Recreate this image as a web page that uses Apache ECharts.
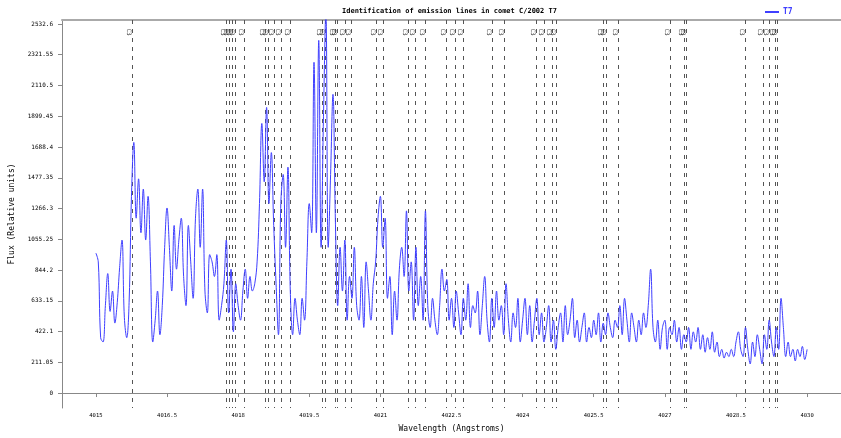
<!DOCTYPE html>
<html><head><meta charset="utf-8">
<script src="https://cdn.jsdelivr.net/npm/echarts@6/dist/echarts.min.js"></script>
<style>html,body{margin:0;padding:0;background:#fff}#c{width:841px;height:438px}</style>
</head><body><div id="c"></div>
<script>
const titleText = 'Identification of emission lines in comet C/2002 T7';
const seriesName = 'T7';
const xAxisName = 'Wavelength (Angstroms)';
const yAxisName = 'Flux (Relative units)';
const lineLabel = 'C3';
const xTicks = [4015, 4016.5, 4018, 4019.5, 4021, 4022.5, 4024, 4025.5, 4027, 4028.5, 4030];
const yTicks = [0, 211.05, 422.1, 633.15, 844.2, 1055.25, 1266.3, 1477.35, 1688.4, 1899.45, 2110.5, 2321.55, 2532.6];
const yTickLabels = ['0', '211.05', '422.1', '633.15', '844.2', '1055.25', '1266.3', '1477.35', '1688.4', '1899.45', '2110.5', '2321.55', '2532.6'];
const lineWavelengths = [4015.757, 4017.735, 4017.80, 4017.861, 4017.924, 4018.124, 4018.577, 4018.64, 4018.766, 4018.903,
  4019.103, 4019.765, 4019.829, 4020.039, 4020.09, 4020.26, 4020.386, 4020.912, 4021.053, 4021.579, 4021.739, 4021.943,
  4022.385, 4022.574, 4022.736, 4023.346, 4023.599, 4024.278, 4024.453, 4024.63, 4024.70, 4025.703, 4025.751, 4026.018,
  4027.118, 4027.398, 4027.455, 4028.682, 4029.06, 4029.187, 4029.328, 4029.37];
const wavelengths = [
4015.00,4015.05,4015.10,4015.15,4015.20,4015.25,4015.30,4015.35,4015.40,4015.45,4015.50,4015.55,4015.60,4015.65,4015.70,4015.75,4015.80,4015.85,4015.90,4015.95,
4016.00,4016.05,4016.10,4016.15,4016.20,4016.25,4016.30,4016.35,4016.40,4016.45,4016.50,4016.55,4016.60,4016.65,4016.70,4016.75,4016.80,4016.85,4016.90,4016.95,
4017.00,4017.05,4017.10,4017.15,4017.20,4017.25,4017.30,4017.35,4017.40,4017.45,4017.50,4017.55,4017.60,4017.65,4017.70,4017.75,4017.80,4017.85,4017.90,4017.95,
4018.00,4018.05,4018.10,4018.15,4018.20,4018.25,4018.30,4018.35,4018.40,4018.45,4018.50,4018.55,4018.60,4018.65,4018.70,4018.75,4018.80,4018.85,4018.90,4018.95,
4019.00,4019.05,4019.10,4019.15,4019.20,4019.25,4019.30,4019.35,4019.40,4019.45,4019.50,4019.55,4019.60,4019.65,4019.70,4019.75,4019.80,4019.85,4019.90,4019.95,
4020.00,4020.05,4020.10,4020.15,4020.20,4020.25,4020.30,4020.35,4020.40,4020.45,4020.50,4020.55,4020.60,4020.65,4020.70,4020.75,4020.80,4020.85,4020.90,4020.95,
4021.00,4021.05,4021.10,4021.15,4021.20,4021.25,4021.30,4021.35,4021.40,4021.45,4021.50,4021.55,4021.60,4021.65,4021.70,4021.75,4021.80,4021.85,4021.90,4021.95,
4022.00,4022.05,4022.10,4022.15,4022.20,4022.25,4022.30,4022.35,4022.40,4022.45,4022.50,4022.55,4022.60,4022.65,4022.70,4022.75,4022.80,4022.85,4022.90,4022.95,
4023.00,4023.05,4023.10,4023.15,4023.20,4023.25,4023.30,4023.35,4023.40,4023.45,4023.50,4023.55,4023.60,4023.65,4023.70,4023.75,4023.80,4023.85,4023.90,4023.95,
4024.00,4024.05,4024.10,4024.15,4024.20,4024.25,4024.30,4024.35,4024.40,4024.45,4024.50,4024.55,4024.60,4024.65,4024.70,4024.75,4024.80,4024.85,4024.90,4024.95,
4025.00,4025.05,4025.10,4025.15,4025.20,4025.25,4025.30,4025.35,4025.40,4025.45,4025.50,4025.55,4025.60,4025.65,4025.70,4025.75,4025.80,4025.85,4025.90,4025.95,
4026.00,4026.05,4026.10,4026.15,4026.20,4026.25,4026.30,4026.35,4026.40,4026.45,4026.50,4026.55,4026.60,4026.65,4026.70,4026.75,4026.80,4026.85,4026.90,4026.95,
4027.00,4027.05,4027.10,4027.15,4027.20,4027.25,4027.30,4027.35,4027.40,4027.45,4027.50,4027.55,4027.60,4027.65,4027.70,4027.75,4027.80,4027.85,4027.90,4027.95,
4028.00,4028.05,4028.10,4028.15,4028.20,4028.25,4028.30,4028.35,4028.40,4028.45,4028.50,4028.55,4028.60,4028.65,4028.70,4028.75,4028.80,4028.85,4028.90,4028.95,
4029.00,4029.05,4029.10,4029.15,4029.20,4029.25,4029.30,4029.35,4029.40,4029.45,4029.50,4029.55,4029.60,4029.65,4029.70,4029.75,4029.80,4029.85,4029.90,4029.95,
4030.00];
const flux = [
960,900,380,350,600,820,560,700,480,620,860,1050,520,380,620,1350,1720,1200,1470,1100,
1400,1050,1350,900,350,500,700,400,600,1000,1270,1000,700,1150,850,1050,1200,800,600,1150,
900,650,1200,1400,1000,1400,700,550,950,900,800,950,500,600,750,1050,550,850,420,750,
600,500,700,850,650,800,700,750,900,1300,1850,1450,1960,1300,1650,1150,750,400,1300,1500,
1000,1550,700,400,650,500,400,650,500,900,1300,1100,2270,1100,2420,1000,1900,2620,1000,1500,
2050,1200,600,1000,700,1050,500,800,650,1000,600,500,800,450,900,700,500,750,900,1200,
1350,1000,1200,650,800,400,700,500,850,1000,800,1250,700,900,500,1000,600,800,500,1250,
600,450,650,500,400,600,850,700,780,500,650,450,700,550,400,650,500,750,450,600,
550,700,400,600,800,500,350,650,450,700,500,600,400,750,500,350,550,450,650,350,
500,650,400,600,350,500,650,400,550,350,450,600,350,500,300,450,550,350,600,400,
500,650,380,500,350,450,550,350,450,380,500,400,550,350,480,400,550,450,380,500,
450,600,400,650,500,350,550,450,350,500,400,550,450,600,850,450,350,500,300,450,
500,300,450,400,500,350,450,300,400,350,450,300,420,350,450,300,400,280,380,300,
420,280,350,250,300,240,280,250,300,250,350,420,300,250,450,300,200,350,250,400,
300,200,400,300,500,350,250,450,300,650,450,250,350,250,300,220,300,250,320,230,
300];

const yMin = -102.7, yMax = 2560;
const chart = echarts.init(document.getElementById('c'), null, {renderer: 'canvas'});
const spectrum = wavelengths.map((w, i) => [w, flux[i]]);
const monoFont = 'DejaVu Sans Mono';
chart.setOption({
  animation: false,
  backgroundColor: '#fff',
  title: {text: titleText, left: 337, top: 3,
    textStyle: {fontFamily: monoFont, fontSize: 7, fontWeight: 'bold', color: '#000'}},
  legend: {left: 760, top: 3, itemWidth: 14, itemHeight: 2, itemGap: 4,
    data: [{name: seriesName, icon: 'rect'}],
    textStyle: {color: '#3f3fff', fontFamily: monoFont, fontSize: 8, fontWeight: 'bold', padding: [0, 0, 0, -1]}},
  grid: {left: 60, right: 0, top: 20, bottom: 29},
  xAxis: [{
    type: 'value', min: 4014.285, max: 4030.715, position: 'bottom',
    name: xAxisName, nameLocation: 'middle', nameGap: 17,
    nameTextStyle: {fontFamily: monoFont, fontSize: 8, color: '#000'},
    axisLine: {lineStyle: {color: '#888', width: 1}},
    axisTick: {customValues: xTicks, length: 4, lineStyle: {color: '#888'}},
    axisLabel: {customValues: xTicks, fontFamily: monoFont, fontSize: 5.5, color: '#000', margin: 5,
      formatter: v => String(v)},
    splitLine: {show: false}
  }, {
    type: 'value', min: 4014.285, max: 4030.715, position: 'top',
    axisLine: {show: true, lineStyle: {color: '#aaa', width: 2}},
    axisTick: {show: false}, axisLabel: {show: false}, splitLine: {show: false}
  }],
  yAxis: {
    type: 'value', min: yMin, max: yMax,
    name: yAxisName, nameLocation: 'middle', nameGap: 46, nameRotate: 90,
    nameTextStyle: {fontFamily: monoFont, fontSize: 8, color: '#000'},
    axisLine: {show: true, lineStyle: {color: '#888', width: 1}},
    axisTick: {show: true, customValues: yTicks, length: 4, lineStyle: {color: '#888'}},
    axisLabel: {customValues: yTicks, fontFamily: monoFont, fontSize: 6, color: '#000', margin: 9,
      formatter: v => yTickLabels[yTicks.indexOf(v)] ?? String(v)},
    splitLine: {show: false}
  },
  series: [{
    type: 'custom', silent: true, z: 1, clip: false,
    data: lineWavelengths.map(v => [v, 0]),
    renderItem: (params, api) => {
      const w = api.value(0);
      const top = api.coord([w, yMax]);
      const bot = api.coord([w, yMin]);
      const px = Math.round(top[0]) + 0.5;
      return {type: 'group', children: [
        {type: 'line', shape: {x1: px, y1: top[1], x2: px, y2: bot[1]},
          style: {stroke: '#555', lineWidth: 1, lineDash: [4, 5]}},
        {type: 'text', x: px - 4, y: top[1] + 12, rotation: -Math.PI / 2,
          style: {text: lineLabel, fontSize: 6, fontFamily: monoFont, fill: '#333', align: 'center', verticalAlign: 'middle'}}
      ]};
    }
  }, {
    name: seriesName, type: 'line', data: spectrum, showSymbol: false, smooth: 0.4, z: 3,
    lineStyle: {color: '#3f3fff', width: 1}, itemStyle: {color: '#3f3fff'}
  }]
});
</script></body></html>
